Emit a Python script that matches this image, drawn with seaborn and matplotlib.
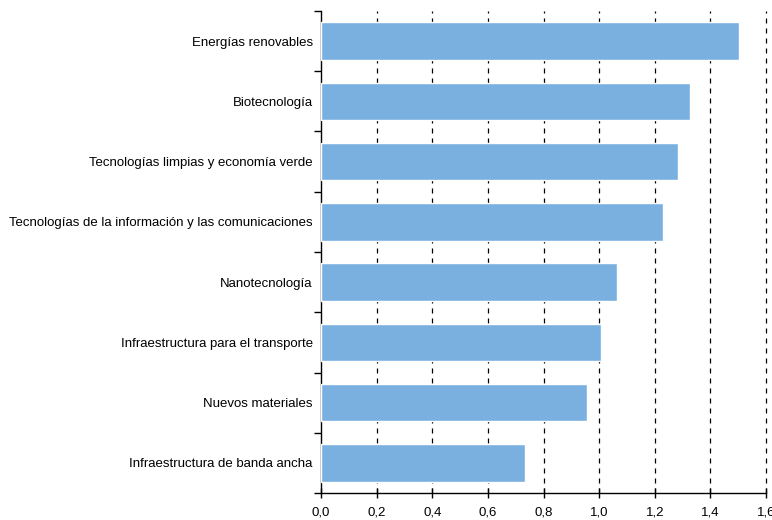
import numpy as np
import pandas as pd
import matplotlib
matplotlib.use('Agg')
import matplotlib.pyplot as plt
import seaborn as sns

# valores
sectores = ['Energías renovables',
            'Biotecnología',
            'Tecnologías limpias y economía verde',
            'Tecnologías de la información y las comunicaciones',
            'Nanotecnología',
            'Infraestructura para el transporte',
            'Nuevos materiales',
            'Infraestructura de banda ancha']
valores = [1.504, 1.325, 1.285, 1.228, 1.063, 1.008, 0.958, 0.735]
ticks_x = [0.0, 0.2, 0.4, 0.6, 0.8, 1.0, 1.2, 1.4, 1.6]

df = pd.DataFrame({'sector': sectores, 'valor': valores})

sns.set_style('white')
plt.rcParams['font.family'] = ['Liberation Sans', 'DejaVu Sans']
plt.rcParams['text.color'] = 'black'
plt.rcParams['xtick.color'] = 'black'
plt.rcParams['ytick.color'] = 'black'

fig = plt.figure(figsize=(7.72, 5.2), dpi=100)
ax = fig.add_axes([321 / 772, 1 - 493 / 520, 445 / 772, 482 / 520])

sns.barplot(data=df, x='valor', y='sector', orient='h', color='#7AB0E0',
            saturation=1, width=0.62, ax=ax, zorder=3)

ax.set_xlim(0, 1.6)
ax.set_ylim(len(sectores) - 0.5, -0.5)
ax.set_xticks(ticks_x)
ax.set_xticklabels([f'{t:.1f}'.replace('.', ',') for t in ticks_x], fontsize=9.5)

# rejilla vertical discontinua
for t in ticks_x[1:]:
    ax.axvline(t, color='black', lw=0.9, ls=(0, (4, 4)), zorder=1, clip_on=False)

# marcas del eje y en los límites de categoría, etiquetas en el centro
ax.set_yticks(np.arange(len(sectores) + 1) - 0.5)
ax.set_yticklabels([])
ax.set_yticks(np.arange(len(sectores)), minor=True)
ax.set_yticklabels(sectores, minor=True, fontsize=9.5)
ax.tick_params(axis='y', which='major', length=5, width=1, direction='out', left=True)
ax.tick_params(axis='y', which='minor', length=0, pad=6)
ax.tick_params(axis='x', length=7, width=1, direction='inout', bottom=True, pad=6)

ax.set_xlabel('')
ax.set_ylabel('')
for s in ['top', 'right']:
    ax.spines[s].set_visible(False)
for s in ['left', 'bottom']:
    ax.spines[s].set_color('black')
    ax.spines[s].set_linewidth(1)

fig.savefig('out.png', dpi=100)
